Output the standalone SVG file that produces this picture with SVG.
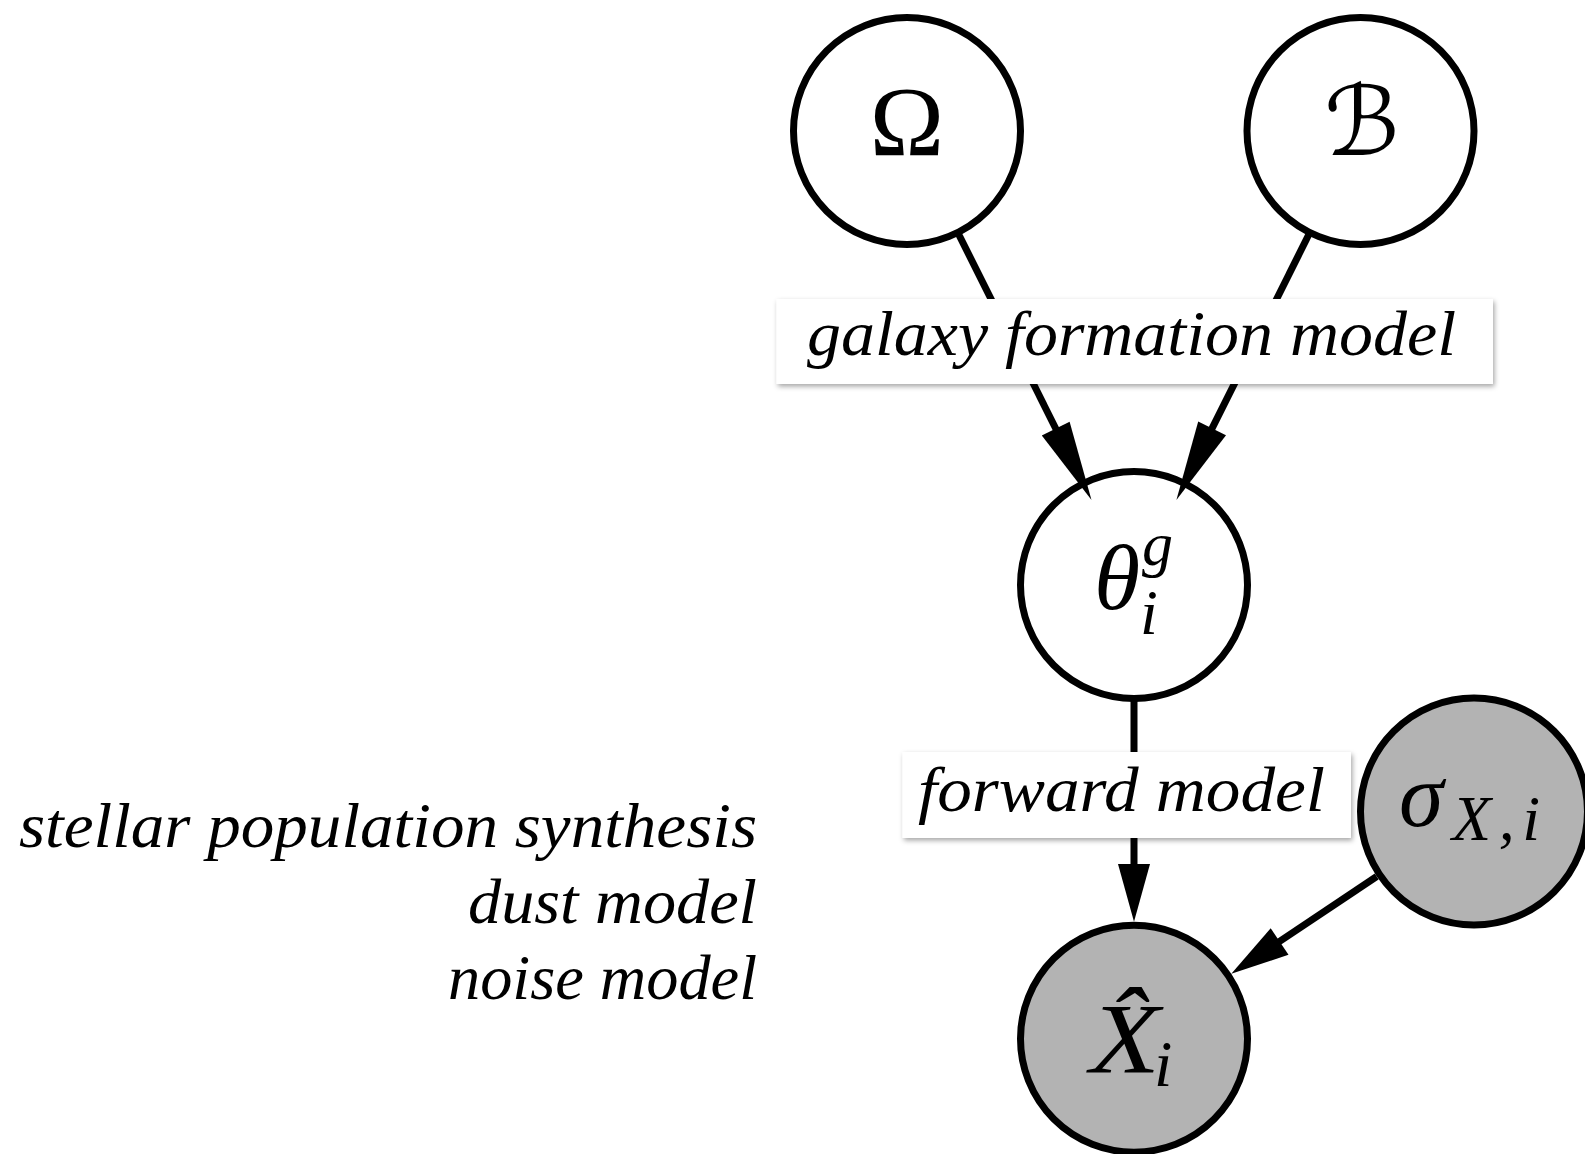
<svg xmlns="http://www.w3.org/2000/svg" width="1585" height="1154" viewBox="0 0 1585 1154">
  <defs>
    <filter id="shadow" x="-5%" y="-20%" width="110%" height="150%">
      <feDropShadow dx="1.5" dy="2.5" stdDeviation="2.5" flood-color="#000" flood-opacity="0.35"/>
    </filter>
  </defs>
  <style>
    .node { fill: #ffffff; stroke: #000000; stroke-width: 7; }
    .observed { fill: #b3b3b3; }
    .edge { stroke: #000000; stroke-width: 7; fill: none; }
    .head { fill: #000000; }
    .box { fill: #ffffff; filter: url(#shadow); }
    .it { font-family: "Liberation Serif", "Times New Roman", serif; font-style: italic; fill: #000000; }
    .up { font-family: "Liberation Serif", "Times New Roman", serif; font-style: normal; fill: #000000; }
    .cal { font-family: "DejaVu Serif", "DejaVu Sans", serif; font-style: normal; fill: #000000; }
    .label { font-size: 64px; }
  </style>

  <rect width="1585" height="1154" fill="#ffffff"/>

  <!-- model nodes -->
  <g id="node-omega">
    <circle class="node" cx="907" cy="131" r="113.5"/>
    <text class="up" x="907" y="155" font-size="100" text-anchor="middle">Ω</text>
  </g>

  <g id="node-beta">
    <circle class="node" cx="1360.5" cy="131" r="113.5"/>
    <text class="cal" x="1362" y="155" font-size="96" text-anchor="middle">ℬ</text>
  </g>

  <g id="node-theta">
    <circle class="node" cx="1134" cy="585" r="113.5"/>
    <text class="it" x="1094" y="609" font-size="94">θ</text>
    <text class="it" x="1142" y="565" font-size="62">g</text>
    <text class="it" x="1140" y="634" font-size="64">i</text>
  </g>

  <g id="node-sigma">
    <circle class="node observed" cx="1474" cy="811.5" r="113.5"/>
    <text class="it" x="1399" y="826" font-size="90">σ</text>
    <text class="it" x="1452" y="840" font-size="64" textLength="88" lengthAdjust="spacing">X,i</text>
  </g>

  <g id="node-xhat">
    <circle class="node observed" cx="1134" cy="1038.7" r="113.5"/>
    <text class="it" x="1090" y="1071.5" font-size="100" textLength="70" lengthAdjust="spacingAndGlyphs">X̂</text>
    <text class="it" x="1154" y="1086" font-size="66">i</text>
  </g>

  <!-- directed edges -->
  <g id="connectors">
    <line class="edge" x1="958.9" y1="234.7" x2="1060.2" y2="437.5"/>
    <polygon class="head" points="1091.5,500.1 1069.6,421.7 1041.8,435.5"/>

    <line class="edge" x1="1308.7" y1="234.8" x2="1207.6" y2="437.4"/>
    <polygon class="head" points="1176.4,500 1198.2,421.5 1226,435.3"/>

    <line class="edge" x1="1134" y1="700" x2="1134" y2="875"/>
    <polygon class="head" points="1134,921.7 1118,864 1150,864"/>

    <line class="edge" x1="1376.7" y1="876.5" x2="1272.9" y2="945.9"/>
    <polygon class="head" points="1231.3,973.7 1270.7,928.2 1288.5,954.8"/>
  </g>

  <!-- edge labels -->
  <g id="label-galaxy">
    <rect class="box" x="776.5" y="299" width="716.5" height="85"/>
    <text class="it label" x="807" y="355" textLength="649" lengthAdjust="spacingAndGlyphs">galaxy formation model</text>
  </g>

  <g id="label-forward">
    <rect class="box" x="902.5" y="752" width="448.5" height="86"/>
    <text class="it label" x="918" y="811" textLength="407" lengthAdjust="spacingAndGlyphs">forward model</text>
  </g>

  <!-- components of the forward model -->
  <g id="forward-components" class="it label" text-anchor="end">
    <text x="757" y="847" textLength="738" lengthAdjust="spacingAndGlyphs">stellar population synthesis</text>
    <text x="757" y="923" textLength="289" lengthAdjust="spacingAndGlyphs">dust model</text>
    <text x="757" y="999" textLength="309" lengthAdjust="spacingAndGlyphs">noise model</text>
  </g>
</svg>
